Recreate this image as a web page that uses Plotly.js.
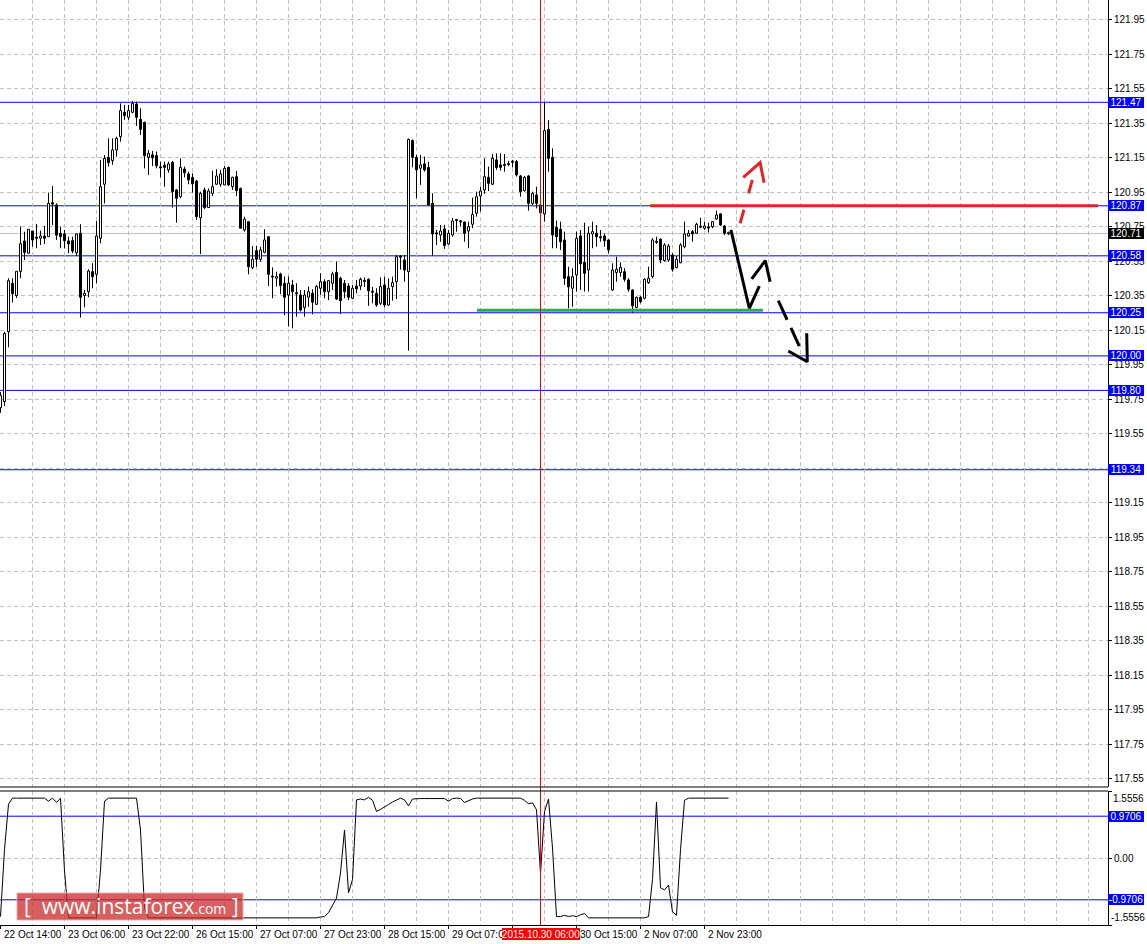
<!DOCTYPE html>
<html><head><meta charset="utf-8">
<script src="https://cdn.plot.ly/plotly-3.0.1.min.js"></script>
<style>html,body{margin:0;padding:0;background:#fff}#chart{width:1147px;height:944px}</style>
</head><body><div id="chart"></div>
<script>
// ---- H1 candles (bar index 0 = 22 Oct 14:00) ----
const barOpen = [119.70,119.735,120.14,120.42,120.35,120.49,120.666,120.595,120.724,120.686,
120.682,120.695,120.691,120.888,120.875,120.71,120.707,120.666,120.668,120.598,
120.711,120.35,120.372,120.488,120.473,120.682,120.995,121.151,121.132,121.194,
121.271,121.412,121.383,121.412,121.46,121.371,121.354,121.151,121.165,121.161,
121.094,121.105,121.078,121.122,120.962,120.923,121.083,121.055,121.035,121.014,
120.801,120.962,120.86,120.942,120.995,120.995,120.991,121.093,120.981,121.039,
120.971,120.73,120.778,120.512,120.61,120.56,120.60,120.691,120.461,120.45,
120.475,120.421,120.353,120.411,120.364,120.353,120.281,120.34,120.363,120.299,
120.392,120.43,120.372,120.421,120.484,120.45,120.421,120.405,120.334,120.405,
120.405,120.435,120.444,120.373,120.363,120.305,120.411,120.295,120.402,120.43,
120.576,120.556,120.488,121.248,121.151,121.088,121.113,121.093,120.884,120.711,
120.701,120.736,120.649,120.701,120.789,120.781,120.776,120.724,120.763,120.827,
120.927,120.962,121.035,120.995,121.136,121.107,121.108,121.113,121.126,121.126,
121.043,120.958,121.043,120.884,120.933,120.875,120.823,121.313,121.151,120.745,
120.734,120.672,120.459,120.392,120.469,120.695,120.542,120.498,120.707,120.711,
120.689,120.695,120.672,120.382,120.483,120.483,120.488,120.44,120.382,120.281,
120.34,120.334,120.425,120.46,120.662,120.676,120.552,120.556,120.585,120.511,
120.54,120.633,120.695,120.72,120.711,120.75,120.74,120.745,120.749,120.794,
120.823,120.753,120.712];
const barHigh = [119.79,120.14,120.45,120.45,120.49,120.75,120.72,120.735,120.724,120.765,
120.726,120.753,120.946,120.985,120.884,120.749,120.73,120.691,120.691,120.71,
120.763,120.382,120.502,120.537,120.782,121.136,121.165,121.261,121.261,121.271,
121.464,121.455,121.455,121.478,121.474,121.435,121.358,121.194,121.188,121.184,
121.126,121.126,121.126,121.13,120.966,121.145,121.097,121.068,121.058,121.02,
120.952,120.975,120.971,121.074,121.082,121.078,121.101,121.097,121.039,121.072,
120.975,120.807,120.778,120.637,120.637,120.633,120.734,120.691,120.513,120.488,
120.482,120.46,120.46,120.44,120.421,120.382,120.382,120.402,120.386,120.411,
120.479,120.444,120.44,120.488,120.546,120.459,120.44,120.421,120.411,120.44,
120.454,120.455,120.45,120.40,120.392,120.455,120.459,120.45,120.459,120.585,
120.585,120.585,121.26,121.255,121.165,121.165,121.155,121.126,120.943,120.73,
120.759,120.759,120.73,120.80,120.792,120.788,120.778,120.778,120.917,120.952,
120.981,121.145,121.097,121.17,121.174,121.174,121.17,121.13,121.136,121.136,
121.049,121.043,121.049,120.952,120.981,120.884,121.474,121.367,121.203,120.784,
120.778,120.72,120.517,120.508,120.72,120.73,120.772,120.749,120.778,120.759,
120.73,120.71,120.676,120.537,120.575,120.542,120.508,120.45,120.386,120.343,
120.347,120.45,120.517,120.682,120.691,120.682,120.653,120.649,120.595,120.579,
120.653,120.778,120.73,120.73,120.772,120.80,120.778,120.772,120.782,120.842,
120.827,120.759,120.72];
const barLow = [119.67,119.71,120.05,120.31,120.335,120.45,120.556,120.595,120.633,120.624,
120.643,120.649,120.691,120.759,120.672,120.624,120.624,120.595,120.595,120.579,
120.222,120.282,120.34,120.392,120.421,120.653,120.884,121.097,121.107,121.155,
121.242,121.368,121.368,121.406,121.333,121.28,121.087,121.049,121.10,121.087,
121.035,120.981,121.062,120.86,120.772,120.914,121.035,120.995,120.946,120.788,
120.591,120.85,120.86,120.927,120.991,120.981,120.991,120.985,120.962,120.927,
120.74,120.72,120.473,120.502,120.517,120.546,120.595,120.405,120.334,120.402,
120.358,120.237,120.17,120.16,120.227,120.257,120.227,120.285,120.241,120.295,
120.353,120.334,120.324,120.382,120.324,120.243,120.334,120.324,120.328,120.363,
120.382,120.40,120.29,120.305,120.285,120.295,120.281,120.29,120.32,120.33,
120.50,120.43,120.03,121.093,120.914,120.991,121.068,120.875,120.581,120.643,
120.662,120.62,120.643,120.691,120.72,120.75,120.662,120.624,120.74,120.807,
120.836,120.939,120.956,120.991,121.078,121.074,121.068,121.10,121.093,121.039,
120.923,120.952,120.842,120.875,120.855,120.83,120.778,121.068,120.624,120.624,
120.614,120.411,120.276,120.285,120.372,120.382,120.373,120.373,120.624,120.633,
120.662,120.633,120.595,120.378,120.43,120.459,120.43,120.372,120.25,120.276,
120.305,120.328,120.417,120.45,120.649,120.537,120.546,120.546,120.488,120.508,
120.537,120.624,120.691,120.662,120.707,120.74,120.73,120.715,120.74,120.788,
120.753,120.701,120.70];
const barClose = [119.77,120.13,120.436,120.36,120.49,120.65,120.60,120.734,120.672,120.684,
120.695,120.682,120.884,120.88,120.70,120.691,120.668,120.649,120.608,120.707,
120.34,120.363,120.492,120.459,120.695,120.981,121.145,121.12,121.194,121.261,
121.422,121.393,121.422,121.464,121.383,121.313,121.161,121.174,121.149,121.103,
121.092,121.093,121.113,120.952,120.914,121.093,121.062,121.02,120.997,120.807,
120.942,120.86,120.956,120.981,121.043,121.055,121.087,120.991,121.035,120.958,
120.74,120.792,120.517,120.56,120.56,120.614,120.672,120.473,120.459,120.46,
120.407,120.34,120.421,120.372,120.362,120.266,120.353,120.372,120.311,120.402,
120.43,120.372,120.436,120.475,120.33,120.32,120.372,120.34,120.392,120.388,
120.444,120.433,120.378,120.371,120.295,120.402,120.295,120.392,120.425,120.575,
120.574,120.498,121.255,121.151,121.078,121.107,121.078,120.875,120.707,120.709,
120.724,120.64,120.711,120.782,120.787,120.779,120.711,120.749,120.82,120.923,
120.956,121.039,121.0,121.145,121.091,121.093,121.105,121.111,121.124,121.049,
120.952,121.035,120.884,120.942,120.884,120.83,121.306,121.145,120.701,120.691,
120.662,120.45,120.40,120.459,120.681,120.533,120.479,120.711,120.72,120.691,
120.686,120.668,120.614,120.498,120.502,120.513,120.444,120.386,120.29,120.34,
120.314,120.444,120.45,120.672,120.66,120.556,120.643,120.637,120.502,120.56,
120.643,120.707,120.711,120.707,120.763,120.748,120.753,120.743,120.778,120.817,
120.759,120.711,120.71];

// ---- oscillator (lower window) ----
const oscValues = [-1.36,0.2,1.25,1.39,1.39,1.39,1.39,1.39,1.39,1.39,
1.39,1.39,1.32,1.39,1.29,1.39,-0.3,-1.39,-1.39,-1.39,
-1.39,-1.39,-1.39,-1.39,-1.39,-0.28,1.32,1.39,1.39,1.39,
1.39,1.39,1.39,1.39,1.39,0.65,-1.16,-1.39,-1.39,-1.39,
-1.39,-1.39,-1.39,-1.39,-1.39,-1.39,-1.39,-1.39,-1.39,-1.39,
-1.39,-1.39,-1.39,-1.39,-1.39,-1.39,-1.39,-1.39,-1.39,-1.39,
-1.39,-1.39,-1.39,-1.39,-1.39,-1.39,-1.39,-1.39,-1.39,-1.39,
-1.39,-1.39,-1.39,-1.39,-1.39,-1.39,-1.39,-1.39,-1.39,-1.39,
-1.37,-1.36,-1.27,-1.09,-0.93,-0.35,0.65,-0.81,-0.5,1.35,
1.37,1.35,1.41,1.34,1.08,1.13,1.18,1.24,1.30,1.35,
1.39,1.35,1.21,1.37,1.38,1.38,1.38,1.38,1.38,1.38,
1.38,1.38,1.32,1.38,1.39,1.38,1.29,1.33,1.37,1.39,
1.39,1.39,1.39,1.39,1.39,1.39,1.39,1.39,1.39,1.39,
1.39,1.34,1.26,1.28,1.12,-0.36,1.08,1.37,0.23,-1.36,
-1.36,-1.33,-1.36,-1.34,-1.36,-1.32,-1.29,-1.39,-1.39,-1.39,
-1.39,-1.39,-1.39,-1.39,-1.39,-1.39,-1.39,-1.39,-1.39,-1.39,
-1.39,-1.39,-1.36,-0.5,1.30,-0.69,-0.74,-0.63,-1.25,-1.33,
0.19,1.34,1.39,1.39,1.39,1.39,1.39,1.39,1.39,1.39,
1.39,1.39,1.39];
const oscLevels = [0.9706, -0.9706];
const oscRange = [-1.5556, 1.5556];

// ---- axis labels ----
const xTickBars = [0,16,32,48,64,80,96,112,128,144,160,176];
const xTickLabels = ['22 Oct 14:00','23 Oct 06:00','23 Oct 22:00','26 Oct 15:00','27 Oct 07:00','27 Oct 23:00',
  '28 Oct 15:00','29 Oct 07:00','29 Oct 23:00','30 Oct 15:00','2 Nov 07:00','2 Nov 23:00'];
const priceTicks = [117.55,117.75,117.95,118.15,118.35,118.55,118.75,118.95,119.15,119.35,119.55,119.75,
  119.95,120.15,120.35,120.55,120.75,120.95,121.15,121.35,121.55,121.75,121.95];

// ---- horizontal levels & markers ----
const blueLevels = [121.47, 120.87, 120.58, 120.25, 120.00, 119.80, 119.34];
const currentPrice = 120.71;
const markerBar = 135; const markerLabel = '2015.10.30 06:00';
const resistanceLine = {bars:[162.4, 274.4], price:120.87};
const supportLine = {bars:[119.1, 190.6], price:120.264};

// ---- hand-drawn forecast arrows (bar index, price) ----
const solidPathBars = [182.6, 187.2, 189.7];   const solidPathPrices = [120.730, 120.276, 120.405];
const solidHeadBars = [187.8, 191.2, 192.4];   const solidHeadPrices = [120.446, 120.552, 120.430];
const dashPathBars = [194.45, 199.7];          const dashPathPrices = [120.320, 120.057];
const dashHeadBars = [196.95, 201.7, 201.55];  const dashHeadPrices = [120.028, 119.966, 120.131];
const redPathBars = [184.9, 188.2];            const redPathPrices = [120.769, 121.039];
const redHeadBars = [185.7, 189.9, 190.9];     const redHeadPrices = [121.035, 121.120, 121.004];

// ---------------------------------------------------------------
const FONT = 'Liberation Sans, Arial, sans-serif';
const GRID = '#c0c0c0', GDASH = '4px,3px';
const n = barOpen.length;
const idx = barOpen.map((_, i) => i);
const minBody = 0.006;

const bodyBase = [], bodyH = [], bodyCol = [];
const wx = [], wy = [];
for (let i = 0; i < n; i++) {
  const o = barOpen[i], c = barClose[i];
  const lo = Math.min(o, c), hi = Math.max(o, c);
  const h = Math.max(hi - lo, minBody);
  const base = (hi - lo < minBody) ? (lo + hi) / 2 - minBody / 2 : lo;
  bodyBase.push(base); bodyH.push(h);
  bodyCol.push(c >= o ? '#ffffff' : '#000000');
  wx.push(i, i, null, i, i, null);
  wy.push(barLow[i], base, null, base + h, barHigh[i], null);
}

const traces = [
  {type:'scatter', mode:'lines', x:wx, y:wy, xaxis:'x', yaxis:'y', connectgaps:false,
   line:{color:'#000', width:1}, hoverinfo:'skip'},
  {type:'bar', x:idx, y:bodyH, base:bodyBase, width:0.5, xaxis:'x', yaxis:'y',
   marker:{color:bodyCol, line:{color:'#000', width:1}}, hoverinfo:'skip'},
  {type:'scatter', mode:'lines', x:idx, y:oscValues, xaxis:'x', yaxis:'y2',
   line:{color:'#000', width:1}, hoverinfo:'skip'},
  {type:'scatter', mode:'lines', x:solidPathBars, y:solidPathPrices, line:{color:'#000', width:3}},
  {type:'scatter', mode:'lines', x:solidHeadBars, y:solidHeadPrices, line:{color:'#000', width:3}},
  {type:'scatter', mode:'lines', x:dashPathBars, y:dashPathPrices, line:{color:'#000', width:3, dash:'21px,9px'}},
  {type:'scatter', mode:'lines', x:dashHeadBars, y:dashHeadPrices, line:{color:'#000', width:3}},
  {type:'scatter', mode:'lines', x:redPathBars, y:redPathPrices, line:{color:'#e8202a', width:3, dash:'14px,17px'}},
  {type:'scatter', mode:'lines', x:redHeadBars, y:redHeadPrices, line:{color:'#e8202a', width:3}}
];

const mainBottom = (925 - 787) / 925, oscTop = (925 - 791) / 925;

const shapes = [];
blueLevels.forEach(v => shapes.push({type:'line', xref:'paper', x0:0, x1:1, yref:'y', y0:v, y1:v,
  line:{color:'#0000ff', width:1}, layer:'below'}));
shapes.push({type:'line', xref:'paper', x0:0, x1:1, yref:'y', y0:currentPrice, y1:currentPrice,
  line:{color:'#c0c0c0', width:1}, layer:'below'});
oscLevels.forEach(v => shapes.push({type:'line', xref:'paper', x0:0, x1:1, yref:'y2', y0:v, y1:v,
  line:{color:'#0000ff', width:1}, layer:'below'}));
shapes.push({type:'line', xref:'x', x0:resistanceLine.bars[0], x1:resistanceLine.bars[1], yref:'y',
  y0:resistanceLine.price, y1:resistanceLine.price, line:{color:'#e8202a', width:3}});
shapes.push({type:'line', xref:'x', x0:supportLine.bars[0], x1:supportLine.bars[1], yref:'y',
  y0:supportLine.price, y1:supportLine.price, line:{color:'#2aad4a', width:3}});
shapes.push({type:'line', xref:'x', x0:markerBar, x1:markerBar, yref:'paper', y0:0, y1:1,
  line:{color:'#ff0000', width:1}});
shapes.push({type:'line', xref:'paper', x0:0, x1:1, yref:'paper', y0:mainBottom, y1:mainBottom, line:{color:'#000', width:1}});
shapes.push({type:'line', xref:'paper', x0:0, x1:1, yref:'paper', y0:oscTop, y1:oscTop, line:{color:'#000', width:1}});
// watermark box
shapes.push({type:'rect', xref:'paper', yref:'paper', x0:17/1108, x1:243/1108, y0:(925-920)/925, y1:(925-893)/925,
  fillcolor:'rgba(204,42,42,0.75)', line:{color:'rgba(240,170,170,0.9)', width:1}});

const annotations = [];
blueLevels.forEach(v => annotations.push({xref:'paper', x:1, xanchor:'left', yref:'y', y:v, yanchor:'middle',
  text:v.toFixed(2), showarrow:false, bgcolor:'#0000ff', font:{color:'#fff', size:10, family:FONT},
  width:36, height:11, borderpad:0, borderwidth:0, align:'center'}));
annotations.push({xref:'paper', x:1, xanchor:'left', yref:'y', y:currentPrice, yanchor:'middle',
  text:currentPrice.toFixed(2), showarrow:false, bgcolor:'#000', font:{color:'#fff', size:10, family:FONT},
  width:36, height:11, borderpad:0, borderwidth:0, align:'center'});
oscLevels.forEach(v => annotations.push({xref:'paper', x:1, xanchor:'left', yref:'y2', y:v, yanchor:'middle',
  text:v.toFixed(4), showarrow:false, bgcolor:'#0000ff', font:{color:'#fff', size:10, family:FONT},
  width:36, height:11, borderpad:0, borderwidth:0, align:'center'}));
annotations.push({xref:'paper', x:1, xanchor:'left', xshift:3, yref:'y2', y:oscRange[1], yanchor:'top',
  text:oscRange[1].toFixed(4), showarrow:false, font:{color:'#000', size:10, family:FONT}});
annotations.push({xref:'paper', x:1, xanchor:'left', xshift:1, yref:'y2', y:oscRange[0], yanchor:'bottom',
  text:oscRange[0].toFixed(4), showarrow:false, font:{color:'#000', size:10, family:FONT}});
// time-axis labels, left-aligned right of their ticks (MT4 style)
xTickBars.forEach((b, k) => annotations.push({xref:'x', x:b, xanchor:'left', xshift:1, yref:'paper', y:0,
  yanchor:'top', yshift:-2, text:xTickLabels[k], showarrow:false, font:{color:'#000', size:10, family:FONT}}));
annotations.push({xref:'x', x:markerBar, xanchor:'center', yref:'paper', y:0, yanchor:'top', yshift:-3,
  text:markerLabel, showarrow:false, bgcolor:'#ff0000', font:{color:'#fff', size:10, family:FONT},
  width:78, height:12, borderpad:0, borderwidth:0});
annotations.push({xref:'paper', x:131/1108, xanchor:'center', yref:'paper', y:(925-906)/925, yanchor:'middle',
  text:'[  www.instaforex<span style="font-size:14px">.com</span> ]', showarrow:false,
  font:{color:'#fff', size:21, family:'Open Sans, Liberation Sans, sans-serif'}});

const layout = {
  width:1147, height:944, margin:{l:0, r:39, t:0, b:19},
  paper_bgcolor:'#fff', plot_bgcolor:'#fff', showlegend:false,
  font:{family:FONT, size:10, color:'#000'},
  xaxis:{domain:[0,1], range:[-0.125, 276.875], anchor:'y2', tickmode:'array', tickvals:xTickBars,
    showticklabels:false, ticks:'outside', ticklen:3, tickcolor:'#000',
    showgrid:true, gridcolor:GRID, griddash:GDASH, zeroline:false, showline:true, linecolor:'#000', linewidth:1,
    minor:{tickmode:'linear', tick0:0, dtick:8, showgrid:true, gridcolor:GRID, griddash:GDASH, ticks:''},
    fixedrange:true},
  yaxis:{domain:[mainBottom, 1], range:[117.501, 122.063], anchor:'x', side:'right',
    tickmode:'array', tickvals:priceTicks, ticktext:priceTicks.map(v => v.toFixed(2)),
    ticks:'outside', ticklen:3, tickcolor:'#000',
    showgrid:true, gridcolor:GRID, griddash:GDASH, zeroline:false, showline:true, linecolor:'#000', linewidth:1,
    fixedrange:true},
  yaxis2:{domain:[0, oscTop], range:oscRange, anchor:'x', side:'right',
    tickmode:'array', tickvals:[oscRange[0], 0, oscRange[1]], ticktext:['', '0.00', ''],
    ticks:'outside', ticklen:3, tickcolor:'#000',
    showgrid:true, gridcolor:GRID, griddash:GDASH, zeroline:false, showline:true, linecolor:'#000', linewidth:1,
    fixedrange:true},
  shapes:shapes, annotations:annotations
};

Plotly.newPlot('chart', traces, layout, {staticPlot:true, displayModeBar:false});
</script></body></html>
